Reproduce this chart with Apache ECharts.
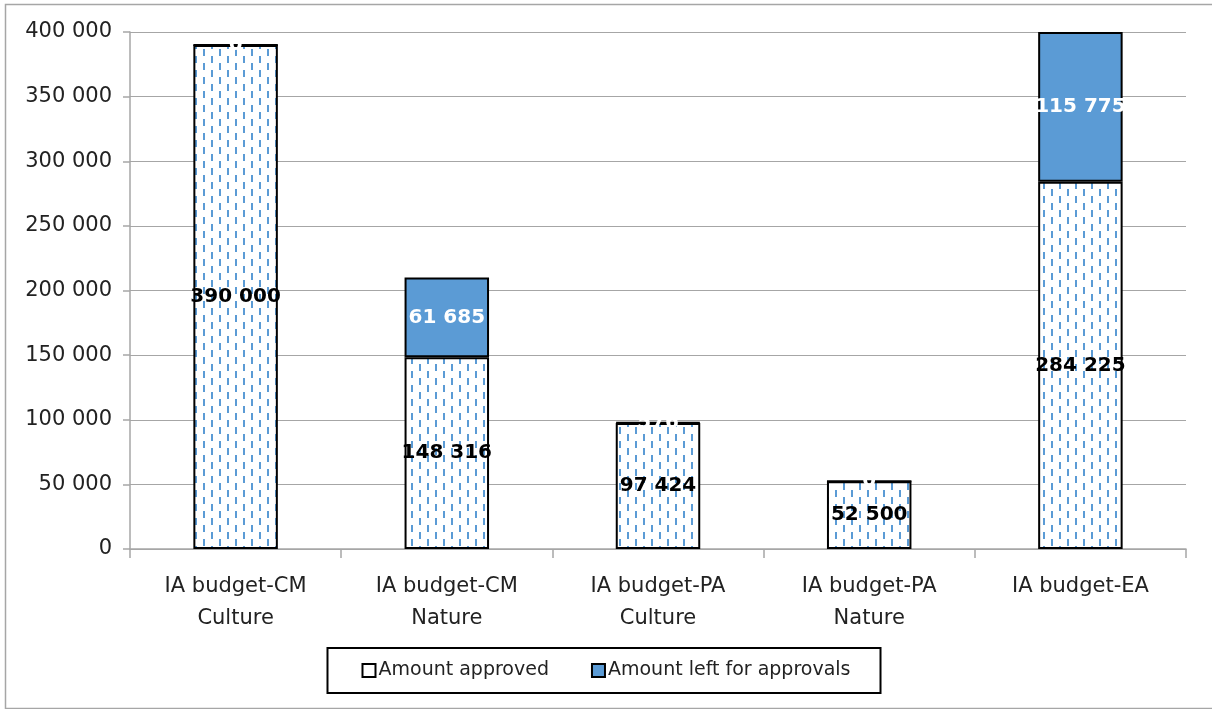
<!DOCTYPE html>
<html>
<head>
<meta charset="utf-8">
<script src="https://cdn.jsdelivr.net/npm/echarts@6/dist/echarts.min.js"></script>
<style>html,body{margin:0;padding:0;background:#fff;}#c{width:1212px;height:709px;}</style>
</head>
<body>
<div id="c"></div>
<script>
var categories = ['IA budget-CM\nCulture', 'IA budget-CM\nNature', 'IA budget-PA\nCulture', 'IA budget-PA\nNature', 'IA budget-EA'];
var approved = [390000, 148316, 97424, 52500, 284225];
var leftForApprovals = [0, 61685, 576, 0, 115775];
var yTicks = [0, 50000, 100000, 150000, 200000, 250000, 300000, 350000, 400000];

function fmt(v) {
  return String(Math.round(v)).replace(/\B(?=(\d{3})+(?!\d))/g, ' ');
}

// dashed vertical line pattern
var pc = document.createElement('canvas');
pc.width = 16; pc.height = 14;
var pctx = pc.getContext('2d');
pctx.fillStyle = '#ffffff';
pctx.fillRect(0, 0, 16, 14);
pctx.fillStyle = '#5B9BD5';
pctx.fillRect(3, 0, 2, 7);
pctx.fillRect(11, 7, 2, 7);

var font = 'DejaVu Sans';
var chart = echarts.init(document.getElementById('c'));
chart.setOption({
  animation: false,
  backgroundColor: '#fff',
  grid: { left: 130, right: 26, top: 32, bottom: 160 },
  graphic: [{
    type: 'rect', left: 3, top: 2,
    shape: { width: 1230, height: 704 },
    style: { fill: 'none', stroke: '#A6A6A6', lineWidth: 1.5 }
  }],
  legend: {
    left: 'center', top: 648,
    padding: [13, 30, 13, 34],
    borderColor: '#000', borderWidth: 2,
    itemWidth: 13, itemHeight: 13, itemGap: 42,
    textStyle: { fontFamily: font, fontSize: 19, color: '#222', padding: [0, 0, 0, -2] },
    data: [
      { name: 'Amount approved', icon: 'rect', itemStyle: { color: '#fff', borderColor: '#000', borderWidth: 2 } },
      { name: 'Amount left for approvals', icon: 'rect', itemStyle: { color: '#5B9BD5', borderColor: '#000', borderWidth: 2 } }
    ]
  },
  xAxis: {
    type: 'category',
    data: categories,
    axisLine: { lineStyle: { color: '#A6A6A6', width: 1.5 } },
    axisTick: { show: true, length: 9, lineStyle: { color: '#A6A6A6', width: 1.5 } },
    axisLabel: { fontFamily: font, fontSize: 21, color: '#222', lineHeight: 32, margin: 22, interval: 0 }
  },
  yAxis: {
    type: 'value',
    min: 0, max: 400000, interval: 50000,
    axisLine: { show: true, lineStyle: { color: '#A6A6A6', width: 1.5 } },
    axisTick: { show: true, length: 7, lineStyle: { color: '#A6A6A6', width: 1.5 } },
    splitLine: { lineStyle: { color: '#A6A6A6', width: 1 } },
    axisLabel: {
      fontFamily: font, fontSize: 21, color: '#222', margin: 18,
      formatter: function (v) { return yTicks.indexOf(v) >= 0 ? fmt(v) : ''; }
    }
  },
  series: [
    {
      name: 'Amount approved', type: 'bar', stack: 'total', barWidth: '40%',
      data: approved,
      itemStyle: { color: { image: pc, repeat: 'repeat' }, borderColor: '#000', borderWidth: 2 },
      label: {
        show: true, position: 'inside', fontFamily: font, fontSize: 20, fontWeight: 'bold', color: '#000',
        formatter: function (p) { return fmt(p.value); }
      },
      z: 2
    },
    {
      name: 'Amount left for approvals', type: 'bar', stack: 'total', barWidth: '40%',
      data: leftForApprovals,
      itemStyle: { color: '#5B9BD5', borderColor: '#000', borderWidth: 2 },
      label: {
        show: true, position: 'inside', fontFamily: font, fontSize: 20, fontWeight: 'bold', color: '#fff',
        formatter: function (p) { return fmt(p.value); }
      },
      z: 3
    }
  ]
});
</script>
</body>
</html>
